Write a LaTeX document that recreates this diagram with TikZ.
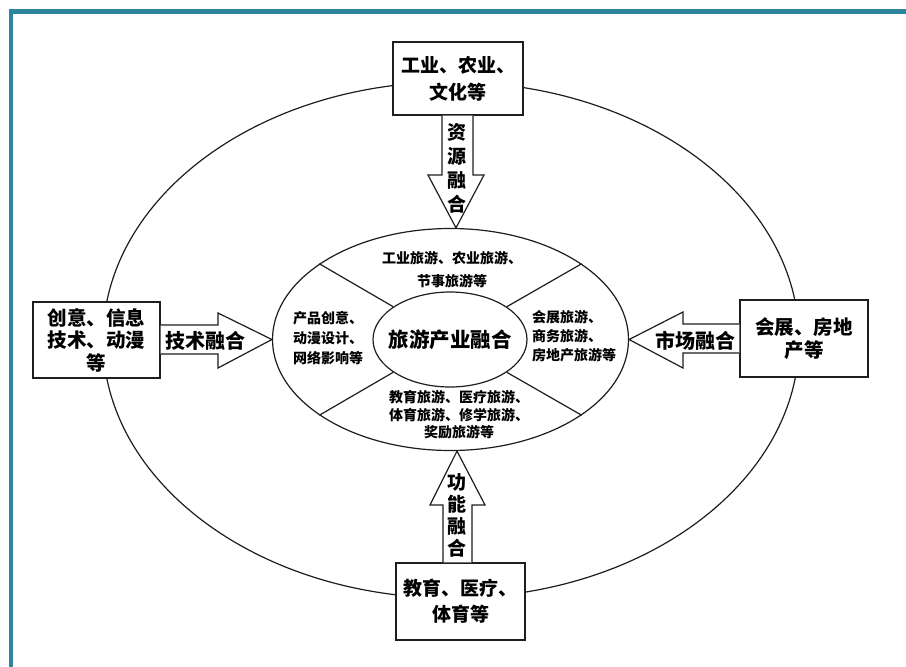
\documentclass[tikz,border=0pt]{standalone}
\usepackage{fontspec}
\setmainfont{Noto Sans CJK SC}
\usetikzlibrary{calc,shapes.geometric}
\definecolor{frameteal}{RGB}{46,134,158}
\definecolor{inkline}{RGB}{30,30,30}
\begin{document}
\begin{tikzpicture}[x=1pt,y=-1pt,
  outline/.style={draw=inkline, line width=1.2pt},
  bigbox/.style={outline, fill=white, inner sep=0pt, align=center,
    font=\bfseries\fontsize{19}{23}\selectfont},
  blockarrow/.style={outline, fill=white, line join=miter},
  arrowtext/.style={inner sep=0pt, align=center, font=\bfseries\fontsize{19}{24}\selectfont},
  smalltext/.style={inner sep=0pt},
  ringshape/.style={outline, ellipse, inner sep=0pt}]
\useasboundingbox (0,0) rectangle (906,667);
\fill[white] (0,0) rectangle (906,667);
% frame
\draw[frameteal, line width=4.5pt] (11,667) -- (11,11.5) -- (906,11.5);
% outer ellipse
\draw[outline] (451,340) ellipse [x radius=348, y radius=258];
% middle ring and core
\node[ringshape, minimum width=356pt, minimum height=222pt] (ring) at (450.5,339.5) {};
\node[ringshape, minimum width=154pt, minimum height=95pt] (core) at (450,339.5) {};
\node[inner sep=0pt, font=\bfseries\fontsize{20.5}{24}\selectfont] (coretext) at (core.center) {旅游产业融合};
\foreach \a in {30,150,210,330}
  \draw[outline] (core.\a) -- (ring.\a);
% region texts
\node[smalltext, align=center, font=\bfseries\fontsize{14}{23}\selectfont] (ttop) at (452,270)
  {工业旅游、农业旅游、\\节事旅游等};
\node[smalltext, align=left, anchor=west, font=\bfseries\fontsize{14}{20}\selectfont] (tleft) at (293,338)
  {产品创意、\\动漫设计、\\网络影响等};
\node[smalltext, align=left, anchor=west, font=\bfseries\fontsize{14}{19}\selectfont] (tright) at (532,336)
  {会展旅游、\\商务旅游、\\房地产旅游等};
\node[smalltext, align=center, font=\bfseries\fontsize{14}{17.5}\selectfont] (tbottom) at (459,415)
  {教育旅游、医疗旅游、\\体育旅游、修学旅游、\\奖励旅游等};
% boxes
\node[bigbox, minimum width=130pt, minimum height=73pt,
  font=\bfseries\fontsize{19}{27}\selectfont] (btop) at (458,78.5) {工业、农业、\\文化等};
\node[bigbox, minimum width=127pt, minimum height=76pt,
  font=\bfseries\fontsize{19.5}{22.5}\selectfont] (bleft) at (96.5,340) {创意、信息\\技术、动漫\\等};
\node[bigbox, minimum width=128pt, minimum height=77pt,
  font=\bfseries\fontsize{19.5}{23}\selectfont] (bright) at (804,338.5) {会展、房地\\产等};
\node[bigbox, minimum width=129pt, minimum height=77pt,
  font=\bfseries\fontsize{19}{26}\selectfont] (bbottom) at (460.5,601.5) {教育、医疗、\\体育等};
% block arrows
\draw[blockarrow] (btop.south -| 442,0) -- (442,175) -- (428,175) -- (ring.north -| 456,0)
  -- (484,175) -- (473,175) -- (btop.south -| 473,0);
\draw[blockarrow] (bbottom.north -| 443,0) -- (443,505) -- (430,505) -- (ring.south -| 457,0)
  -- (485,505) -- (472,505) -- (bbottom.north -| 472,0);
\draw[blockarrow] (bleft.east |- 0,325) -- (218,325) -- (218,313) -- (ring.west)
  -- (218,368) -- (218,354) -- (bleft.east |- 0,354);
\draw[blockarrow] (bright.west |- 0,324) -- (683,324) -- (683,312) -- (ring.east)
  -- (683,368) -- (683,353) -- (bright.west |- 0,353);
% arrow labels
\node[arrowtext] (lres) at (457,168.5) {资\\源\\融\\合};
\node[arrowtext, font=\bfseries\fontsize{19}{22}\selectfont] (lfun) at (457,515.5) {功\\能\\融\\合};
\node[arrowtext, font=\bfseries\fontsize{20}{24}\selectfont] (ltech) at (205.5,341) {技术融合};
\node[arrowtext, font=\bfseries\fontsize{20}{24}\selectfont] (lmkt) at (695,341) {市场融合};
\end{tikzpicture}
\end{document}
